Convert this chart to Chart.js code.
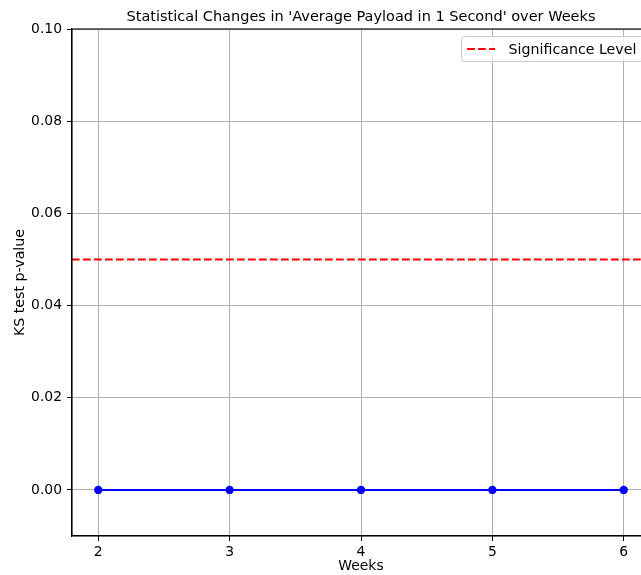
<!DOCTYPE html>
<html>
<head>
<meta charset="utf-8">
<script src="https://cdn.jsdelivr.net/npm/chart.js@4"></script>
<style>
  html, body { margin: 0; padding: 0; background: #ffffff; overflow: hidden; width: 641px; height: 575px; }
  #wrap { width: 722px; height: 575px; }
</style>
</head>
<body>
<div id="wrap"><canvas id="c" width="722" height="575"></canvas></div>
<script>
// ---- data ----
const weeks = [2, 3, 4, 5, 6];
const pValues = [0.0, 0.0, 0.0, 0.0, 0.0];
const significanceLevel = 0.05;
const xTicks = [2, 3, 4, 5, 6];
const yTicks = [0.00, 0.02, 0.04, 0.06, 0.08, 0.10];
const titleText = "Statistical Changes in 'Average Payload in 1 Second' over Weeks";
const xLabel = 'Weeks';
const yLabel = 'KS test p-value';
const legendLabel = 'Significance Level';

const FONT = "'DejaVu Sans', sans-serif";

const framePlugin = {
  id: 'frame',
  beforeDatasetsDraw(chart) {
    const { ctx, chartArea, scales } = chart;
    const y = scales.y.getPixelForValue(significanceLevel);
    ctx.save();
    ctx.beginPath();
    ctx.rect(chartArea.left, chartArea.top, chartArea.right - chartArea.left, chartArea.bottom - chartArea.top);
    ctx.clip();
    ctx.strokeStyle = '#ff0000';
    ctx.lineWidth = 2;
    ctx.setLineDash([7.7, 3.3]);
    ctx.beginPath();
    ctx.moveTo(chartArea.left, y);
    ctx.lineTo(chartArea.right, y);
    ctx.stroke();
    ctx.restore();
  },
  afterDraw(chart) {
    const { ctx, chartArea } = chart;
    ctx.save();
    ctx.strokeStyle = '#000000';
    ctx.lineWidth = 1.1;
    ctx.strokeRect(chartArea.left, chartArea.top, chartArea.right - chartArea.left, chartArea.bottom - chartArea.top);
    // legend
    const fs = 14.2;
    ctx.font = fs + 'px ' + FONT;
    const tw = ctx.measureText(legendLabel).width;
    const bp = 5.6, hl = 28, htp = 13.5;
    const w = bp + hl + htp + tw + bp + 1;
    const h = 25;
    const right = chartArea.right - 7;
    const left = right - w;
    const top = chartArea.top + 7.5;
    const r = 3;
    ctx.beginPath();
    ctx.moveTo(left + r, top);
    ctx.lineTo(right - r, top);
    ctx.arcTo(right, top, right, top + r, r);
    ctx.lineTo(right, top + h - r);
    ctx.arcTo(right, top + h, right - r, top + h, r);
    ctx.lineTo(left + r, top + h);
    ctx.arcTo(left, top + h, left, top + h - r, r);
    ctx.lineTo(left, top + r);
    ctx.arcTo(left, top, left + r, top, r);
    ctx.closePath();
    ctx.fillStyle = 'rgba(255,255,255,0.8)';
    ctx.fill();
    ctx.strokeStyle = '#cccccc';
    ctx.lineWidth = 1;
    ctx.stroke();
    const cy = top + h / 2;
    ctx.strokeStyle = '#ff0000';
    ctx.lineWidth = 2;
    ctx.setLineDash([7.7, 3.3]);
    ctx.beginPath();
    ctx.moveTo(left + bp, cy);
    ctx.lineTo(left + bp + hl, cy);
    ctx.stroke();
    ctx.setLineDash([]);
    ctx.fillStyle = '#000000';
    ctx.textBaseline = 'middle';
    ctx.textAlign = 'left';
    ctx.fillText(legendLabel, left + bp + hl + htp, cy + 1);
    ctx.restore();
  }
};

new Chart(document.getElementById('c'), {
  type: 'line',
  data: {
    datasets: [{
      label: 'p-value',
      data: weeks.map((w, i) => ({ x: w, y: pValues[i] })),
      borderColor: '#0000ff',
      backgroundColor: '#0000ff',
      borderWidth: 2,
      pointRadius: 4.2,
      pointHoverRadius: 4.2,
      pointBorderWidth: 0,
      tension: 0,
      fill: false
    }]
  },
  options: {
    responsive: false,
    devicePixelRatio: 1,
    animation: false,
    events: [],
    layout: { padding: 0 },
    plugins: {
      legend: { display: false },
      tooltip: { enabled: false },
      title: {
        display: true,
        text: titleText,
        color: '#000000',
        font: { family: FONT, size: 14.5, weight: 'normal' },
        padding: { top: 8.3, bottom: 3.3 }
      }
    },
    scales: {
      x: {
        type: 'linear',
        min: 1.8,
        max: 6.2,
        afterBuildTicks(scale) { scale.ticks = xTicks.map(v => ({ value: v })); },
        afterFit(scale) { scale.height = 39; },
        grid: { color: '#b0b0b0', lineWidth: 1, drawTicks: true, tickLength: 5, tickColor: '#000000', tickWidth: 1 },
        border: { display: true, color: '#000000', width: 1.1 },
        ticks: {
          color: '#000000',
          font: { family: FONT, size: 13.9 },
          padding: 3,
          maxRotation: 0,
          callback: v => String(v)
        },
        title: {
          display: true,
          text: xLabel,
          color: '#000000',
          font: { family: FONT, size: 13.9 },
          padding: { top: 0, bottom: 0 }
        }
      },
      y: {
        type: 'linear',
        min: -0.01,
        max: 0.10,
        afterBuildTicks(scale) { scale.ticks = yTicks.map(v => ({ value: v })); },
        afterFit(scale) { scale.width = 72; },
        grid: { color: '#b0b0b0', lineWidth: 1, drawTicks: true, tickLength: 5, tickColor: '#000000', tickWidth: 1 },
        border: { display: true, color: '#000000', width: 1.1 },
        ticks: {
          color: '#000000',
          font: { family: FONT, size: 13.9 },
          padding: 5,
          callback: v => Number(v).toFixed(2)
        },
        title: {
          display: true,
          text: yLabel,
          color: '#000000',
          font: { family: FONT, size: 14.2 },
          padding: { top: 12, bottom: 0 }
        }
      },
      spacer: {
        type: 'linear',
        position: 'right',
        display: true,
        min: 0,
        max: 1,
        afterFit(scale) { scale.width = 72; },
        grid: { display: false, drawTicks: false },
        border: { display: false },
        ticks: { display: false },
        title: { display: false }
      }
    }
  },
  plugins: [framePlugin]
});
</script>
</body>
</html>
